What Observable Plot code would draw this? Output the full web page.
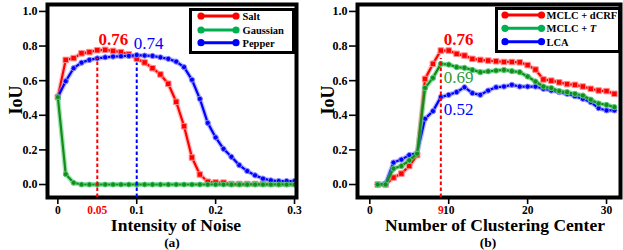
<!DOCTYPE html>
<html><head><meta charset="utf-8">
<script src="https://cdn.jsdelivr.net/npm/d3@7"></script>
<script src="https://cdn.jsdelivr.net/npm/@observablehq/plot@0.6"></script>
<style>
body{margin:0;background:#fff;}
#wrap{position:relative;width:623px;height:250px;overflow:hidden;font-family:"Liberation Serif","Tinos","Times New Roman","DejaVu Serif",serif;}
.p{position:absolute;top:0;}
.lab{position:absolute;font-weight:bold;white-space:nowrap;line-height:1;color:#000;}
svg text{font-family:"Liberation Serif","Tinos","Times New Roman","DejaVu Serif",serif;}
</style></head><body><div id="wrap"></div>
<script>
// ---------- data: panel (a) ----------
const noise = [0,0.01,0.02,0.03,0.04,0.05,0.06,0.07,0.08,0.09,0.10,0.11,0.12,0.13,0.14,0.15,0.16,0.17,0.18,0.19,0.20,0.21,0.22,0.23,0.24,0.25,0.26,0.27,0.28,0.29,0.30];
const salt = [0.505,0.72,0.73,0.758,0.765,0.776,0.778,0.772,0.765,0.752,0.727,0.705,0.672,0.636,0.582,0.478,0.337,0.156,0.058,0.016,0.012,0.011,0.003,0.003,0.003,0.003,0.003,0.003,0.003,0.003,0.003];
const gaussian = [0.505,0.06,0.01,0,0,0,0,0,0,0,0,0,0,0,0,0,0,0,0,0,0,0,0,0,0,0,0,0,0,0,0];
const pepper = [0.505,0.597,0.672,0.704,0.72,0.729,0.735,0.739,0.741,0.743,0.748,0.745,0.743,0.735,0.726,0.71,0.678,0.605,0.495,0.356,0.272,0.206,0.16,0.112,0.078,0.053,0.034,0.024,0.02,0.02,0.02];
const noiseTicks = [0,0.1,0.2,0.3];
const noiseBest = [{x:0.05, y:0.776, label:"0.76"}, {x:0.10, y:0.748, label:"0.74"}];

// ---------- data: panel (b) ----------
const centers = [1,2,3,4,5,6,7,8,9,10,11,12,13,14,15,16,17,18,19,20,21,22,23,24,25,26,27,28,29,30,31];
const dcrf = [0,0,0.04,0.063,0.107,0.17,0.61,0.697,0.774,0.774,0.755,0.745,0.726,0.72,0.716,0.712,0.708,0.708,0.706,0.69,0.664,0.607,0.6,0.59,0.58,0.576,0.566,0.553,0.543,0.54,0.524];
const mclcT = [0,0,0.092,0.107,0.14,0.178,0.558,0.616,0.697,0.693,0.678,0.674,0.662,0.649,0.654,0.658,0.662,0.655,0.649,0.624,0.595,0.566,0.557,0.54,0.534,0.524,0.514,0.49,0.468,0.46,0.447];
const lca = [0,0.006,0.127,0.144,0.17,0.182,0.38,0.424,0.505,0.518,0.534,0.562,0.528,0.518,0.543,0.562,0.566,0.576,0.566,0.566,0.566,0.553,0.543,0.534,0.524,0.51,0.495,0.476,0.441,0.428,0.428];
const centerTicks = [0,10,20,30];
const centerBest = 9;
const centerBestLabels = [
  {y:0.774, label:"0.76", color:"#ff0000", weight:"bold", dy:-11},
  {y:0.697, label:"0.69", color:"#2e9a3a", weight:"normal", dy:14},
  {y:0.505, label:"0.52", color:"#0000ff", weight:"normal", dy:12.5}
];

const iouTicks = [0,0.2,0.4,0.6,0.8,1.0];
const legendA = ["Salt","Gaussian","Pepper"];
const legendB = ["MCLC + dCRF","MCLC + T","LCA"];

// ---------- styles ----------
const RED = "#ff0000", RED_H = "#ff8c8c";
const BLUE = "#0000ff", BLUE_H = "#8c8cff";
const GREEN = "#178a17", GREEN_H = "#4fcf7a";
const LEG_GREEN = "#00b050";
const FONT = "'Liberation Serif', 'Tinos', 'Times New Roman', 'DejaVu Serif', serif";
const yDomain = [-0.075, 1.04];

function series(xs, ys, color, halo, symbol, r) {
  return [
    Plot.line(ys, {x: xs, y: ys, stroke: halo, strokeWidth: 4.8, strokeOpacity: 0.55}),
    Plot.line(ys, {x: xs, y: ys, stroke: color, strokeWidth: 2.2}),
    Plot.dot(ys, {x: xs, y: ys, symbol, r, fill: color, stroke: halo, strokeWidth: 1})
  ];
}
function axes(ticks, fmt) {
  return [
    Plot.axisY(iouTicks, {tickSize: 8, tickPadding: 2, tickFormat: ".1f", fontSize: 12, fontWeight: "bold", strokeWidth: 1.6, label: null}),
    Plot.axisX(ticks, {tickSize: 7, tickPadding: 1, tickFormat: fmt, fontSize: 11.5, fontWeight: "bold", strokeWidth: 1.6, label: null})
  ];
}

const plotA = Plot.plot({
  width: 310, height: 250,
  marginLeft: 47, marginRight: 14, marginTop: 4, marginBottom: 53,
  x: {domain: [-0.0131, 0.3025]},
  y: {domain: yDomain},
  style: {fontFamily: FONT, background: "transparent", overflow: "visible", color: "black"},
  marks: [
    ...axes(noiseTicks, d => d === 0 ? "0" : String(d)),
    Plot.axisX([noiseBest[0].x], {tickSize: 0, tickPadding: 8, tickFormat: d => String(d), fontSize: 11.5, fontWeight: "bold", fill: RED, label: null}),
    ...series(noise, salt, RED, RED_H, "square", 3.1),
    ...series(noise, pepper, BLUE, BLUE_H, "circle", 2.6),
    ...series(noise, gaussian, GREEN, GREEN_H, "circle", 2.5),
    Plot.frame({stroke: "black", strokeWidth: 4}),
    Plot.ruleX(noiseBest, {x: "x", y1: yDomain[0], y2: "y", insetBottom: -8, stroke: (d, i) => i === 0 ? RED : BLUE, strokeWidth: 2, strokeDasharray: "3.5,2.5"}),
    Plot.text(noiseBest.slice(0,1), {x: "x", y: "y", text: "label", dx: 16, dy: -11, fill: RED, fontSize: 17, fontWeight: "bold"}),
    Plot.text(noiseBest.slice(1), {x: "x", y: "y", text: "label", dx: 12, dy: -11, fill: BLUE, fontSize: 17})
  ]
});

const plotB = Plot.plot({
  width: 313, height: 250,
  marginLeft: 47, marginRight: 3, marginTop: 4, marginBottom: 53,
  x: {domain: [-1.56, 31.77]},
  y: {domain: yDomain},
  style: {fontFamily: FONT, background: "transparent", overflow: "visible", color: "black"},
  marks: [
    ...axes(centerTicks, d => String(d)),
    Plot.axisX([centerBest], {tickSize: 0, tickPadding: 8, tickFormat: d => String(d), fontSize: 11.5, fontWeight: "bold", fill: RED, label: null}),
    ...series(centers, dcrf, RED, RED_H, "square", 3.1),
    ...series(centers, lca, BLUE, BLUE_H, "circle", 2.6),
    ...series(centers, mclcT, GREEN, GREEN_H, "circle", 2.6),
    Plot.frame({stroke: "black", strokeWidth: 4}),
    Plot.ruleX([centerBest], {x: d => d, y1: yDomain[0], y2: () => dcrf[centers.indexOf(centerBest)], insetBottom: -8, stroke: RED, strokeWidth: 2, strokeDasharray: "3.5,2.5"}),
    ...centerBestLabels.map(d => Plot.text([d], {x: () => centerBest, y: "y", text: "label", textAnchor: "start", dx: 3,
      dy: d.dy, fill: d.color, fontWeight: d.weight, fontSize: 17}))
  ]
});

const wrap = document.getElementById("wrap");
[plotA, plotB].forEach((p, i) => { p.classList.add("p"); p.style.left = (i === 0 ? 0 : 310) + "px"; wrap.appendChild(p); });

// ---------- labels ----------
function label(text, x, y, size, rotate) {
  const d = document.createElement("div");
  d.className = "lab";
  d.innerHTML = text;
  d.style.fontSize = size + "px";
  d.style.left = x + "px"; d.style.top = y + "px";
  d.style.transform = `translate(-50%,-50%)` + (rotate ? " rotate(-90deg)" : "");
  wrap.appendChild(d);
}
label("Intensity of Noise", 176, 226, 17.5);
label("(a)", 172, 242.5, 13.5);
label("IoU", 16, 100, 18, true);
label("Number of Clustering Center", 495, 226, 17.5);
label("(b)", 488, 242.5, 13.5);
label("IoU", 328, 100, 18, true);

// ---------- legends ----------
function legend(x0, y0, w, h, names, colors, lineX0, lineX1, rows, textX, fmt) {
  const svg = d3.select(wrap).append("svg").attr("class", "p").style("left", "0px")
    .attr("width", 623).attr("height", 250).style("pointer-events", "none");
  svg.append("rect").attr("x", x0 + 1.5).attr("y", y0 + 1.5).attr("width", w - 3).attr("height", h - 3)
    .attr("fill", "white").attr("stroke", "black").attr("stroke-width", 3);
  names.forEach((n, i) => {
    const y = rows[i];
    svg.append("line").attr("x1", lineX0).attr("x2", lineX1).attr("y1", y).attr("y2", y)
      .attr("stroke", colors[i]).attr("stroke-width", 3);
    [lineX0, lineX1].forEach(cx => svg.append("circle").attr("cx", cx).attr("cy", y).attr("r", 3.6).attr("fill", colors[i]));
    const t = svg.append("text").attr("x", textX).attr("y", y + 3.8).attr("font-family", FONT)
      .attr("font-weight", "bold").attr("font-size", 10.5).attr("fill", "black");
    fmt(t, n);
  });
}
const plain = (t, n) => t.text(n);
legend(189, 8, 106, 46, legendA, [RED, LEG_GREEN, BLUE], 201, 236, [16, 30, 42.7], 242.5, plain);
legend(495, 7, 126, 46, legendB, [RED, LEG_GREEN, BLUE], 505, 541.5, [15, 28.3, 41.7], 546.5, (t, n) => {
  if (n.endsWith(" T")) { t.append("tspan").text(n.slice(0, -1)); t.append("tspan").attr("font-style", "italic").text("T"); }
  else t.text(n);
});
</script></body></html>
